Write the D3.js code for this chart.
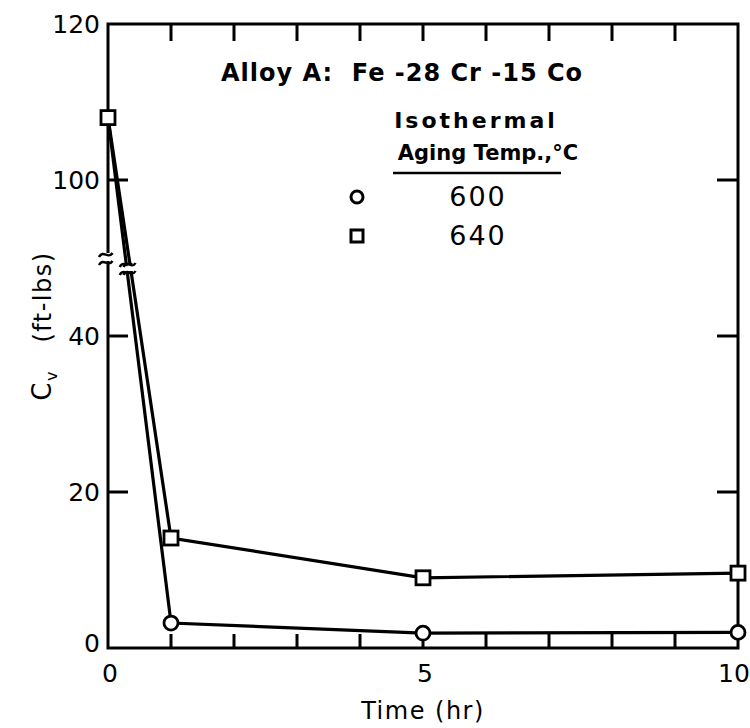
<!DOCTYPE html>
<html><head><meta charset="utf-8">
<script src="https://cdn.jsdelivr.net/npm/d3@7"></script>
<style>body{margin:0;background:#fff}svg{display:block}</style>
</head><body>
<svg id="c" width="750" height="728"></svg>
<script>
const times = [0, 1, 5, 10];
const cv600 = [108, 3.2, 1.9, 2.0];
const cv640 = [108, 14.1, 9.0, 9.6];
const seriesLabels = ["600", "640"];
const xTickLabels = [0, 5, 10];
const xMinorTicks = [1, 2, 3, 4, 5, 6, 7, 8, 9];
const yTickLabels = [0, 20, 40, 100, 120];
const yTicks = [20, 40, 100];
const title = "Alloy A:  Fe -28 Cr -15 Co";

const svg = d3.select("#c");
const L = 108, R = 738, T = 24, B = 648;
const x = d3.scaleLinear().domain([0, 10]).range([L, R]);
const y = d3.scaleLinear().domain([0, 50, 90, 120]).range([B, 258, 258, T]);
const yBreak = 258;
const font = "'DejaVu Sans', sans-serif";

// frame
svg.append("rect").attr("x", L).attr("y", T).attr("width", R - L).attr("height", B - T)
  .attr("fill", "none").attr("stroke", "#000").attr("stroke-width", 3);

// ticks (inward)
const gt = svg.append("g").attr("stroke", "#000").attr("stroke-width", 3);
xMinorTicks.forEach(t => {
  gt.append("line").attr("x1", x(t)).attr("x2", x(t)).attr("y1", B).attr("y2", B - 14);
  gt.append("line").attr("x1", x(t)).attr("x2", x(t)).attr("y1", T).attr("y2", T + 17);
});
yTicks.forEach(v => {
  gt.append("line").attr("x1", L).attr("x2", L + 20).attr("y1", y(v)).attr("y2", y(v));
  gt.append("line").attr("x1", R).attr("x2", R - 21).attr("y1", y(v)).attr("y2", y(v));
});

// axis break on left axis
function breakMark(g, cx, cy, w) {
  [-4, 4].forEach(dy => {
    g.append("path")
      .attr("d", `M${cx - w},${cy + dy + 3} C${cx - w / 2},${cy + dy - 5} ${cx},${cy + dy + 6} ${cx + w / 2},${cy + dy - 1}`)
      .attr("fill", "none").attr("stroke", "#000").attr("stroke-width", 2.5);
  });
}
svg.append("rect").attr("x", L - 3).attr("y", yBreak - 5).attr("width", 6).attr("height", 8).attr("fill", "#fff");
breakMark(svg, L, yBreak, 9);

// tick labels
svg.append("g").selectAll("text").data(xTickLabels).join("text")
  .attr("x", d => x(d) + (d === 10 ? -4 : 2)).attr("y", 682)
  .attr("text-anchor", "middle").attr("font-family", font).attr("font-size", 25)
  .text(d => d);
svg.append("g").selectAll("text").data(yTickLabels).join("text")
  .attr("x", 100).attr("y", d => y(d) + (d === 0 ? 4 : 9))
  .attr("text-anchor", "end").attr("font-family", font).attr("font-size", 25)
  .text(d => d);

// axis titles
svg.append("text").attr("x", 423).attr("y", 719).attr("text-anchor", "middle")
  .attr("font-family", font).attr("font-size", 24).attr("letter-spacing", 1.5).text("Time (hr)");
const yl = svg.append("text").attr("transform", "translate(51,326) rotate(-90)")
  .attr("text-anchor", "middle").attr("font-family", font).attr("font-size", 24)
  .attr("letter-spacing", 1.5).attr("xml:space", "preserve");
yl.append("tspan").attr("font-size", 26).text("C");
yl.append("tspan").attr("font-size", 16).attr("dy", 6).text("v");
yl.append("tspan").attr("dy", -6).text("   (ft-lbs)");

// data lines
const line = d3.line().x((d, i) => x(times[i])).y(d => y(d));
[cv600, cv640].forEach(s => {
  svg.append("path").datum(s).attr("d", line).attr("fill", "none")
    .attr("stroke", "#000").attr("stroke-width", 3.2);
});
// break marks on data lines (where the segment crosses the break)
[cv600, cv640].forEach(s => {
  const x0 = x(times[0]), y0 = y(s[0]), x1 = x(times[1]), y1 = y(s[1]);
  const f = (yBreak + 10 - y0) / (y1 - y0);
  const cx = x0 + f * (x1 - x0);
  svg.append("rect").attr("x", cx - 3).attr("y", yBreak + 6).attr("width", 7).attr("height", 7).attr("fill", "#fff");
  breakMark(svg, cx + 1, yBreak + 10, 8);
});

// markers
svg.append("g").selectAll("circle").data(cv600.slice(1)).join("circle")
  .attr("cx", (d, i) => x(times[i + 1])).attr("cy", d => y(d)).attr("r", 7)
  .attr("fill", "#fff").attr("stroke", "#000").attr("stroke-width", 2.8);
svg.append("g").selectAll("rect").data(cv640).join("rect")
  .attr("x", (d, i) => x(times[i]) - 7).attr("y", d => y(d) - 7)
  .attr("width", 14).attr("height", 14)
  .attr("fill", "#fff").attr("stroke", "#000").attr("stroke-width", 2.8);

// title
svg.append("text").attr("x", 402).attr("y", 81).attr("text-anchor", "middle")
  .attr("font-family", font).attr("font-weight", "bold").attr("font-size", 24)
  .attr("letter-spacing", 1).attr("xml:space", "preserve").text(title);

// legend
svg.append("text").attr("x", 476).attr("y", 128).attr("text-anchor", "middle")
  .attr("font-family", font).attr("font-weight", "bold").attr("font-size", 22)
  .attr("letter-spacing", 3).text("Isothermal");
svg.append("text").attr("x", 488).attr("y", 160).attr("text-anchor", "middle")
  .attr("font-family", font).attr("font-weight", "bold").attr("font-size", 21).text("Aging Temp.,°C");
svg.append("line").attr("x1", 393).attr("x2", 561).attr("y1", 173).attr("y2", 173)
  .attr("stroke", "#000").attr("stroke-width", 2.5);
svg.append("circle").attr("cx", 357).attr("cy", 197).attr("r", 6)
  .attr("fill", "#fff").attr("stroke", "#000").attr("stroke-width", 3);
svg.append("rect").attr("x", 351).attr("y", 230).attr("width", 12).attr("height", 12)
  .attr("fill", "#fff").attr("stroke", "#000").attr("stroke-width", 3);
svg.append("g").selectAll("text").data(seriesLabels).join("text")
  .attr("x", 478).attr("y", (d, i) => 206 + i * 39).attr("text-anchor", "middle")
  .attr("font-family", font).attr("font-size", 27).attr("letter-spacing", 2).text(d => d);
</script>
</body></html>
